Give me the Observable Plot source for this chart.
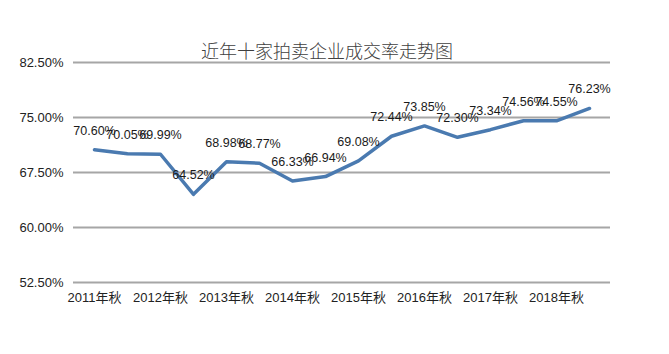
<!DOCTYPE html>
<html>
<head>
<meta charset="utf-8">
<script src="https://cdn.jsdelivr.net/npm/d3@7"></script>
<script src="https://cdn.jsdelivr.net/npm/@observablehq/plot@0.6"></script>
<style>
  html, body { margin: 0; padding: 0; background: #fff; }
  #chart svg { display: block; }
</style>
</head>
<body>
<div id="chart"></div>
<script>
const title = "近年十家拍卖企业成交率走势图";
const categories = [
  "2011年秋", "2012年春", "2012年秋", "2013年春", "2013年秋", "2014年春",
  "2014年秋", "2015年春", "2015年秋", "2016年春", "2016年秋", "2017年春",
  "2017年秋", "2018年春", "2018年秋", "2019年春"
];
const rates = [70.60, 70.05, 69.99, 64.52, 68.98, 68.77, 66.33, 66.94,
               69.08, 72.44, 73.85, 72.30, 73.34, 74.56, 74.55, 76.23];
const xTickLabels = ["2011年秋", "2012年秋", "2013年秋", "2014年秋",
                     "2015年秋", "2016年秋", "2017年秋", "2018年秋"];
const yTicks = [52.5, 60, 67.5, 75, 82.5];

const data = categories.map((c, i) => ({cat: c, rate: rates[i]}));
const font = "'Liberation Sans', 'Noto Sans CJK SC', sans-serif";

const chart = Plot.plot({
  width: 669,
  height: 354,
  marginLeft: 73,
  marginRight: 59,
  marginTop: 62,
  marginBottom: 72,
  style: {fontFamily: font, fontSize: "13px", color: "#222", background: "#fff"},
  x: {type: "point", domain: categories, padding: 0.5, label: null},
  y: {domain: [52.5, 82.5], label: null},
  marks: [
    Plot.gridY(yTicks, {stroke: "#a6a6a6", strokeOpacity: 1, strokeWidth: 2}),
    Plot.axisY(yTicks, {tickSize: 0, tickPadding: 10, tickFormat: d => d.toFixed(2) + "%", fontSize: 13, fill: "#222", label: null}),
    Plot.axisX(xTickLabels, {tickSize: 0, tickPadding: 10, fontSize: 13, fill: "#222", label: null}),
    Plot.line(data, {x: "cat", y: "rate", stroke: "#4a7ab0", strokeWidth: 3.5, strokeLinejoin: "round"}),
    Plot.text(data, {x: "cat", y: "rate", text: d => d.rate.toFixed(2) + "%", dy: -19, fontSize: 12.5, fill: "#1a1a1a"}),
    Plot.text([title], {frameAnchor: "top", dx: -15, dy: -17, text: d => d, fontSize: 18, fill: "#404040", fontWeight: 300, style: "letter-spacing:1.8px"})
  ]
});
document.getElementById("chart").appendChild(chart);
</script>
</body>
</html>
